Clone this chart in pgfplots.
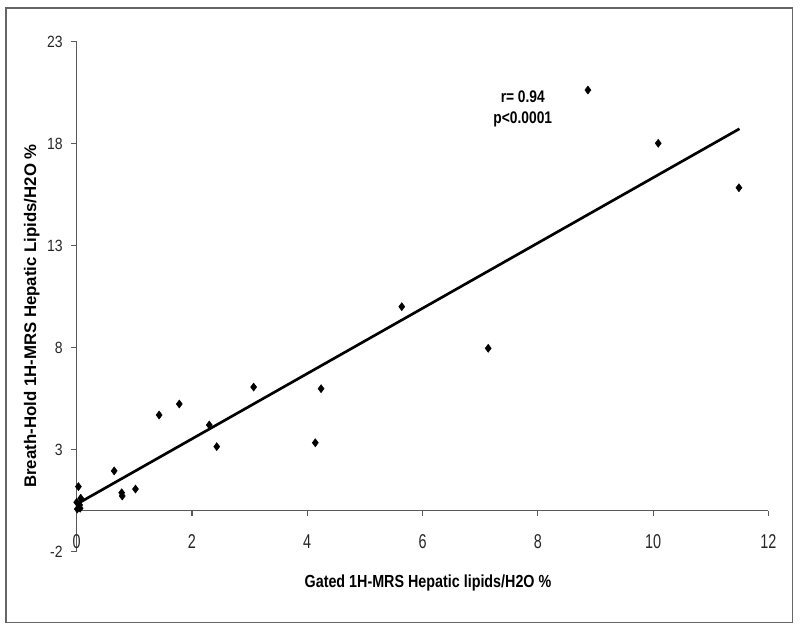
\documentclass[border=0pt]{standalone}
\usepackage{pgfplots}
\pgfplotsset{compat=1.18}
\usepackage{fontspec}
\setmainfont{Liberation Sans}
\newfontfamily\narrow[FakeStretch=0.82]{Liberation Sans}
\newfontfamily\narrowy[FakeStretch=0.86]{Liberation Sans}
\newfontfamily\narrowx[FakeStretch=0.72]{Liberation Sans}
\begin{document}
\begin{tikzpicture}[x=0.75pt,y=0.75pt]
\useasboundingbox (0,0) rectangle (800,631);
\draw[gray!80!black, line width=0.9pt] (6,8.3) rectangle (792.7,623);
\begin{axis}[
  at={(57.53pt,59.48pt)}, anchor=south west,
  scale only axis, width=518.7pt, height=382.5pt,
  xmin=0, xmax=12, ymin=-2, ymax=23,
  axis x line=middle, axis y line=left,
  hide obscured x ticks=false, hide obscured y ticks=false,
  axis line style={-, draw=gray!70!black, line width=0.9pt},
  xtick={0,2,...,12}, ytick={-2,3,8,13,18,23},
  tick align=outside, major tick length=4pt,
  tick style={draw=gray!70!black, line width=0.8pt},
  /pgf/number format/assume math mode=true,
  xticklabel style={font=\narrowx\fontsize{15pt}{17pt}\selectfont, text=black!85, yshift=-10pt},
  yticklabel style={font=\narrowy\fontsize{12.2pt}{14pt}\selectfont, text=black!85, xshift=-3pt},
  clip=false,
]
\addplot[only marks, mark=diamond*, mark size=3pt, black] coordinates {
(0.03,1.19) (0.07,0.62) (0.00,0.42) (0.05,0.29) (0.01,0.09) (0.06,0.13)
(0.65,1.96) (0.78,0.89) (0.79,0.73) (1.02,1.07) (1.43,4.70) (1.78,5.24)
(2.30,4.21) (2.43,3.15) (3.07,6.07) (4.14,3.34) (4.24,5.99) (5.64,10.01)
(7.14,7.97) (8.87,20.63) (10.09,18.02) (11.49,15.84)
};
\addplot[black, line width=2pt] coordinates {(0,0.33) (11.5,18.73)};
\node[align=center, font=\narrow\bfseries\fontsize{12.6pt}{15.5pt}\selectfont] at (axis cs:7.74,19.72) {r= 0.94\\p<0.0001};
\end{axis}
\node[font=\narrow\bfseries\fontsize{13.1pt}{15pt}\selectfont] at (428,48) {Gated 1H-MRS Hepatic lipids/H2O \%};
\node[rotate=90, font=\bfseries\fontsize{12.6pt}{15pt}\selectfont] at (31.7,315) {Breath-Hold 1H-MRS Hepatic Lipids/H2O \%};
\end{tikzpicture}
\end{document}
